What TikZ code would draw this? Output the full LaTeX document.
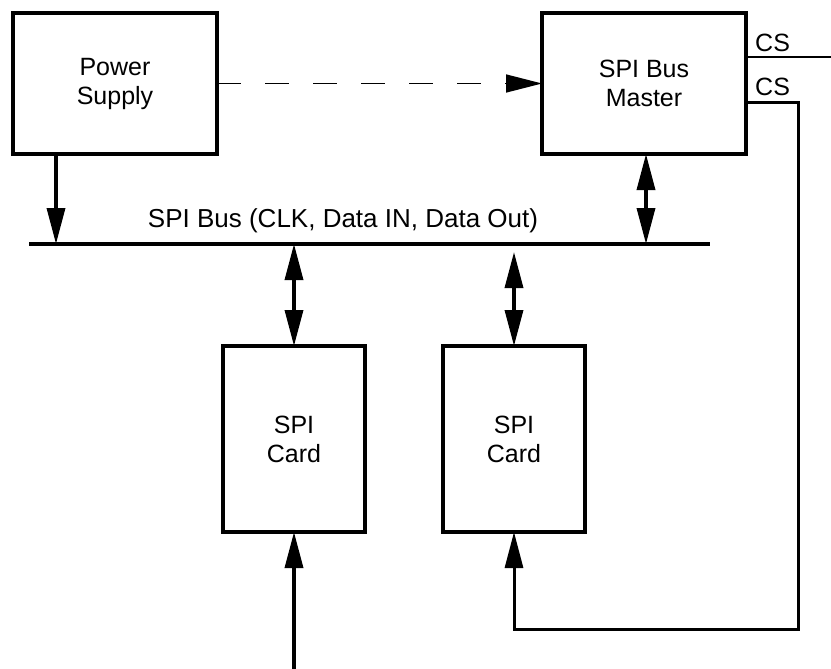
\documentclass[tikz,border=0pt]{standalone}
\usepackage{fontspec}
\setmainfont{Liberation Sans}
\usetikzlibrary{arrows.meta, positioning}

\begin{document}
\begin{tikzpicture}[
    x=1pt, y=-1pt,
    node distance=78pt,
    >={Triangle[length=36pt, width=18pt]},
    block/.style={rectangle, draw=black, line width=3.3pt, outer sep=0pt,
                  minimum width=204pt, minimum height=141pt, align=center,
                  font=\fontsize{25}{29}\selectfont},
    card/.style={block, minimum width=142pt, minimum height=186pt},
    lbl/.style={inner sep=0pt, font=\fontsize{25}{29}\selectfont},
    arr/.style={->, line width=3.5pt},
    darr/.style={<->, line width=3.5pt},
    dasharr/.style={->, line width=1.5pt, dash pattern=on 24pt off 24pt},
    wire/.style={line width=3pt}
]
\useasboundingbox (0,0) rectangle (831,669);
\node[block] (psu) at (115,83.5) {Power\\Supply};
\node[block, right=325pt of psu] (master) {SPI Bus\\Master};
\node[card] (card1) at (294,439) {SPI\\Card};
\node[card, right=of card1] (card2) {SPI\\Card};
\coordinate (busW) at (29,244);
\coordinate (busE) at (710,244);
\coordinate (psutap) at (56,244);
\coordinate (mtap) at (646,244);
\coordinate (c2tap) at (514,252);
\coordinate (feed) at (294,669);
\coordinate (cs1) at (831,57);
\coordinate (cs2) at (798,103);
\coordinate (loop) at (798,629);
\node[lbl, font=\fontsize{26}{30}\selectfont] (buslbl) at (343,221) {SPI Bus (CLK, Data IN, Data Out)};
\node[lbl, anchor=west] (cs1lbl) at (755,43) {CS};
\node[lbl, anchor=west] (cs2lbl) at (755,87) {CS};
\draw[wire, line width=3.5pt] (busW) -- (busE);
\draw[dasharr] (psu.east) -- (master.west);
\draw[arr] (psu.south -| psutap) -- (psutap);
\draw[darr] (master.south -| mtap) -- (mtap);
\draw[darr] (card1.north |- busW) -- (card1.north);
\draw[darr] (c2tap) -- (card2.north);
\draw[arr] (feed) -- (card1.south);
\draw[wire, line width=2pt] (master.east |- cs1) -- (cs1);
\draw[wire, ->] (master.east |- cs2) -| (loop) -| (card2.south);
\end{tikzpicture}
\end{document}
